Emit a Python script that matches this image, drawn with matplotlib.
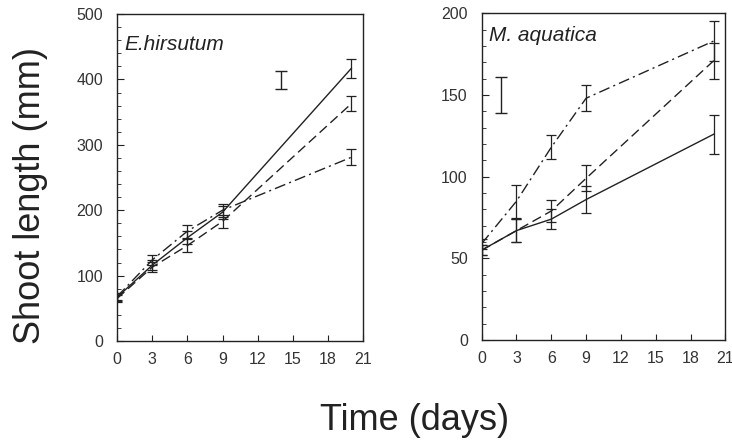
import numpy as np
import matplotlib
matplotlib.use('Agg')
import matplotlib.pyplot as plt
from matplotlib.ticker import MultipleLocator

plt.rcParams['font.family'] = ['Liberation Sans', 'DejaVu Sans']

days = [0, 3, 6, 9, 20]

# E. hirsutum
eh_solid = [67, 116, 158, 197, 417]
eh_solid_err = [6, 8, 10, 10, 15]
eh_dash = [65, 113, 146, 183, 363]
eh_dash_err = [6, 8, 10, 10, 11]
eh_dashdot = [68, 124, 168, 200, 281]
eh_dashdot_err = [6, 8, 10, 10, 12]
eh_bar = (14, 399, 14)  # day, value, half-width of the LSD bar

# M. aquatica
ma_solid = [55, 67, 74, 86, 126]
ma_solid_err = [3, 7, 6, 8, 12]
ma_dash = [55, 67, 79, 99, 171]
ma_dash_err = [3, 7, 7, 8, 11]
ma_dashdot = [59, 85, 118, 148, 183]
ma_dashdot_err = [3, 10, 7.5, 8, 12]
ma_bar = (1.7, 150, 11)

ink = '#222222'
styles = ['-', (0, (7, 3.5)), (0, (8, 3, 1.5, 3))]

fig = plt.figure(figsize=(7.32, 4.4), dpi=100)
ax1 = fig.add_axes([0.160, 0.225, 0.336, 0.743])
ax2 = fig.add_axes([0.658, 0.227, 0.333, 0.743])

panels = [
    (ax1, [eh_solid, eh_dash, eh_dashdot], [eh_solid_err, eh_dash_err, eh_dashdot_err],
     eh_bar, 500, 100, 20, 'E.hirsutum', 0.935),
    (ax2, [ma_solid, ma_dash, ma_dashdot], [ma_solid_err, ma_dash_err, ma_dashdot_err],
     ma_bar, 200, 50, 10, 'M. aquatica', 0.96),
]

for ax, series, errs, bar, ymax, major, minor, name, ty in panels:
    for y, e, ls in zip(series, errs, styles):
        ax.plot(days, y, color=ink, lw=1.0, linestyle=ls)
        ax.errorbar(days, y, yerr=e, fmt='none', ecolor=ink, elinewidth=0.9,
                    capsize=3.5, capthick=0.9)
    ax.errorbar([bar[0]], [bar[1]], yerr=[bar[2]], fmt='none', ecolor=ink,
                elinewidth=1.0, capsize=4, capthick=1.0)
    ax.set_xlim(0, 21)
    ax.set_ylim(0, ymax)
    ax.set_xticks(range(0, 22, 3))
    ax.yaxis.set_major_locator(MultipleLocator(major))
    ax.yaxis.set_minor_locator(MultipleLocator(minor))
    ax.tick_params(which='both', direction='in', colors=ink, labelcolor='#333333',
                   labelsize=11.5, top=False, right=False)
    ax.tick_params(axis='y', which='major', length=5, pad=10)
    ax.tick_params(axis='y', which='minor', length=3)
    ax.tick_params(axis='x', which='major', length=4, pad=8)
    for sp in ax.spines.values():
        sp.set_color(ink)
        sp.set_linewidth(1.0)
    ax.text(0.03, ty, name, transform=ax.transAxes, fontsize=15, style='italic',
            color=ink, ha='left', va='top')

fig.text(0.041, 0.555, 'Shoot length (mm)', rotation=90, fontsize=26,
         color=ink, ha='center', va='center')
fig.text(0.566, 0.045, 'Time (days)', fontsize=26, color=ink,
         ha='center', va='center')

plt.savefig('out.png', dpi=100)
